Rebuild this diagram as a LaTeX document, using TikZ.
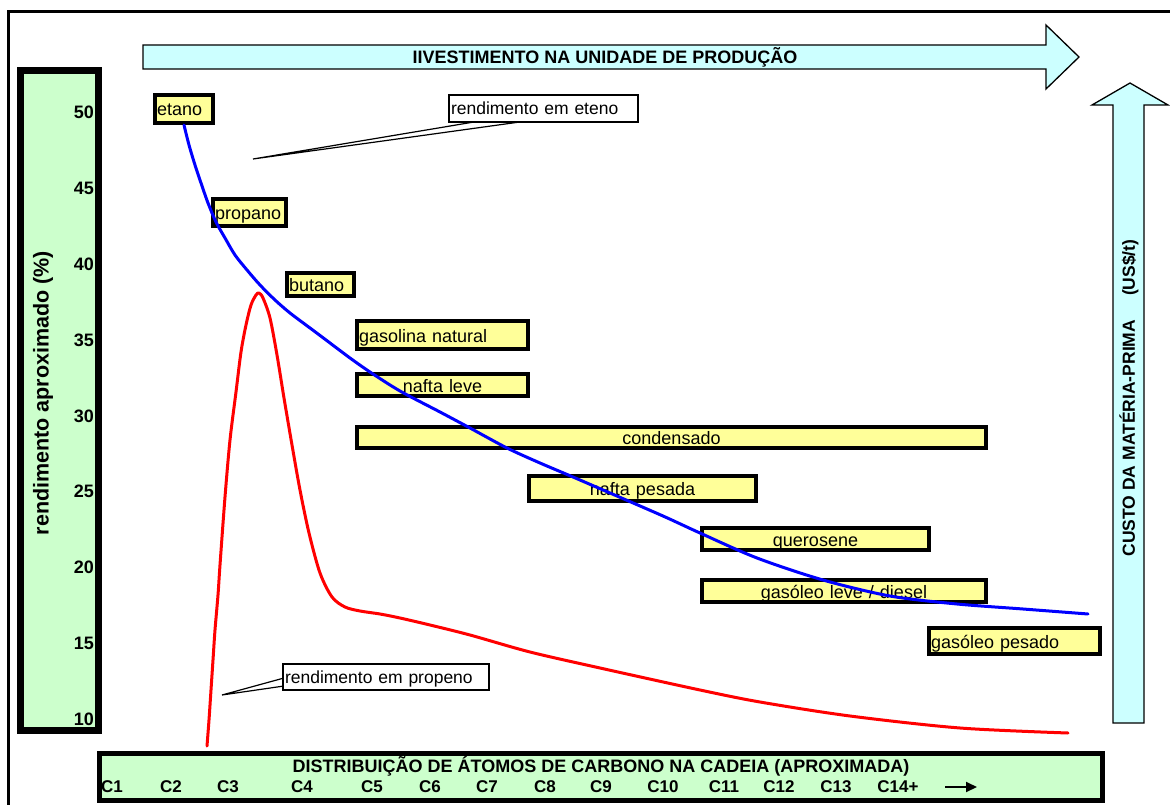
\documentclass[tikz,border=0pt]{standalone}
\usepackage{fontspec}
\setmainfont{Liberation Sans}
\usetikzlibrary{shadows,arrows.meta}
\definecolor{yfill}{HTML}{FFFF99}
\definecolor{gfill}{HTML}{CCFFCC}
\definecolor{cfill}{HTML}{CCFFFF}
\begin{document}
\begin{tikzpicture}[x=1pt,y=-1pt,
  yb/.style={draw=black, line width=4pt, fill=yfill, inner xsep=2pt, inner ysep=0pt,
    font=\fontsize{18}{20}\selectfont, text height=14pt, text depth=0pt,
    drop shadow={shadow xshift=2pt, shadow yshift=-2pt, fill=black, opacity=1}},
  callout/.style={draw=black, line width=1.2pt, fill=white, inner xsep=2pt, inner ysep=0pt,
    font=\fontsize{17.5}{20}\selectfont, align=left, text height=13.5pt, text depth=1pt},
  tick/.style={anchor=east, font=\bfseries\fontsize{18}{20}\selectfont, inner sep=0pt},
  cl/.style={font=\bfseries\fontsize{17}{18}\selectfont, inner sep=0pt},
  arrowshape/.style={draw=black, line width=1.3pt, fill=cfill, line join=miter},
  curve/.style={line width=3pt, line join=round, line cap=round}
]
\useasboundingbox (0,0) rectangle (1170,805);
% frame
\draw[line width=3pt] (8,810) -- (8,12) -- (1175,12);

% top arrow
\draw[arrowshape] (143,45) -- (1046,45) -- (1046,25) -- (1079,57) -- (1046,89) -- (1046,69) -- (143,69) -- cycle;
\node[font=\bfseries\fontsize{18}{19}\selectfont, inner sep=0pt] (invest) at (605,57) {IIVESTIMENTO NA UNIDADE DE PRODUÇÃO};

% right arrow
\draw[arrowshape] (1113,723) -- (1113,105) -- (1092,105) -- (1130,83) -- (1168,105) -- (1144,105) -- (1144,723) -- cycle;
\node[font=\bfseries\fontsize{17.5}{19}\selectfont, inner sep=0pt, rotate=90] (custo) at (1129,398) {CUSTO DA MATÉRIA-PRIMA\hspace{24pt}(US\$/t)};

% left panel
\node[draw=black, line width=7pt, fill=gfill, minimum width=78pt, minimum height=660pt, inner sep=0pt] (ypanel) at (59.5,400.5) {};
\node[font=\bfseries\fontsize{21.5}{24}\selectfont, rotate=90, inner sep=0pt] (ylabel) at (43,393) {rendimento aproximado (\%)};
\node[tick] (t50) at (94,112) {50};
\node[tick] (t45) at (94,188) {45};
\node[tick] (t40) at (94,264) {40};
\node[tick] (t35) at (94,340) {35};
\node[tick] (t30) at (94,416) {30};
\node[tick] (t25) at (94,491) {25};
\node[tick] (t20) at (94,567) {20};
\node[tick] (t15) at (94,643) {15};
\node[tick] (t10) at (94,719) {10};

% bottom panel
\node[draw=black, line width=5pt, fill=gfill, minimum width=1003pt, minimum height=47pt, inner sep=0pt] (xpanel) at (601,777) {};
\node[font=\bfseries\fontsize{18}{19}\selectfont, inner sep=0pt] (xtitle) at (601,766) {DISTRIBUIÇÃO DE ÁTOMOS DE CARBONO NA CADEIA (APROXIMADA)};
\node[cl] (c1) at (112,787) {C1};
\node[cl] (c2) at (171,787) {C2};
\node[cl] (c3) at (228,787) {C3};
\node[cl] (c4) at (302,787) {C4};
\node[cl] (c5) at (372,787) {C5};
\node[cl] (c6) at (430,787) {C6};
\node[cl] (c7) at (487,787) {C7};
\node[cl] (c8) at (545,787) {C8};
\node[cl] (c9) at (601,787) {C9};
\node[cl] (c10) at (663,787) {C10};
\node[cl] (c11) at (724,787) {C11};
\node[cl] (c12) at (779,787) {C12};
\node[cl] (c13) at (836,787) {C13};
\node[cl] (c14) at (898,787) {C14+};
\coordinate (xa1) at (945,787);
\coordinate (xa2) at (977,787);
\draw[line width=2pt, -{Triangle[length=11pt,width=10pt]}] (xa1) -- (xa2);

% yellow boxes
\node[yb, minimum width=58pt, minimum height=28pt, text width=54pt, align=left] (etano) at (184,109) {etano};
\node[yb, minimum width=73pt, minimum height=27pt, text width=69pt, align=left] (propano) at (249.5,212.5) {propano};
\node[yb, minimum width=67pt, minimum height=23pt, text width=63pt, align=left] (butano) at (320.5,284.5) {butano};
\node[yb, minimum width=171pt, minimum height=28pt, text width=167pt, align=left] (gasnat) at (442.5,335) {gasolina natural};
\node[yb, minimum width=171pt, minimum height=22pt, text width=167pt, align=center] (nleve) at (442.5,385) {nafta leve};
\node[yb, minimum width=629pt, minimum height=21pt, text width=625pt, align=center] (cond) at (671.5,437.5) {condensado};
\node[yb, minimum width=227pt, minimum height=25pt, text width=223pt, align=center] (npes) at (642.5,488.5) {nafta pesada};
\node[yb, minimum width=227pt, minimum height=22pt, text width=223pt, align=center] (quer) at (815.5,539) {querosene};
\node[yb, minimum width=284pt, minimum height=22pt, text width=280pt, align=center] (gleve) at (844,591) {gasóleo leve / diesel};
\node[yb, minimum width=171pt, minimum height=26pt, text width=167pt, align=left] (gpes) at (1014.5,641) {gasóleo pesado};

% callouts
\coordinate (e1) at (480,121);
\coordinate (e2) at (527,121);
\coordinate (etip) at (253,159);
\draw[line width=1.2pt, fill=white, line join=miter] (e1) -- (etip) -- (e2);
\node[callout, minimum width=189pt, minimum height=27pt, text width=185pt] (eteno) at (543.5,108.5) {rendimento em eteno};

\coordinate (p1) at (284,678);
\coordinate (p2) at (284,686);
\coordinate (ptip) at (222,695);
\draw[line width=1.2pt, fill=white, line join=miter] (p1) -- (ptip) -- (p2);
\node[callout, minimum width=206pt, minimum height=26pt, text width=202pt] (propeno) at (386,677) {rendimento em propeno};

% curves
\draw[curve, red] plot[smooth] coordinates {(207,746) (209,720) (211,690) (213,660) (215,630) (218,595) (220,565) (225,497) (230,440) (236,392) (241,352) (246,325) (251,305) (256,295) (259,293) (263,298) (270,318) (277,355) (284,398) (292,445) (300,490) (309,533) (320,573) (332,597) (345,607) (360,611) (380,614) (400,618) (430,625) (470,635) (530,652) (600,668) (700,690) (760,702) (850,716) (960,728) (1068,733)};
\draw[curve, blue] plot[smooth] coordinates {(184,125) (189,145) (195,165) (201,183) (208,203) (216,222) (225,238) (235,255) (247,270) (260,285) (275,300) (290,313) (310,328) (330,343) (350,358) (370,372) (400,391) (440,412) (470,428) (507,448) (540,463) (573,477) (610,493) (663,516) (700,533) (757,558) (823,580) (890,596) (957,604) (1023,609) (1088,614)};
\end{tikzpicture}
\end{document}
